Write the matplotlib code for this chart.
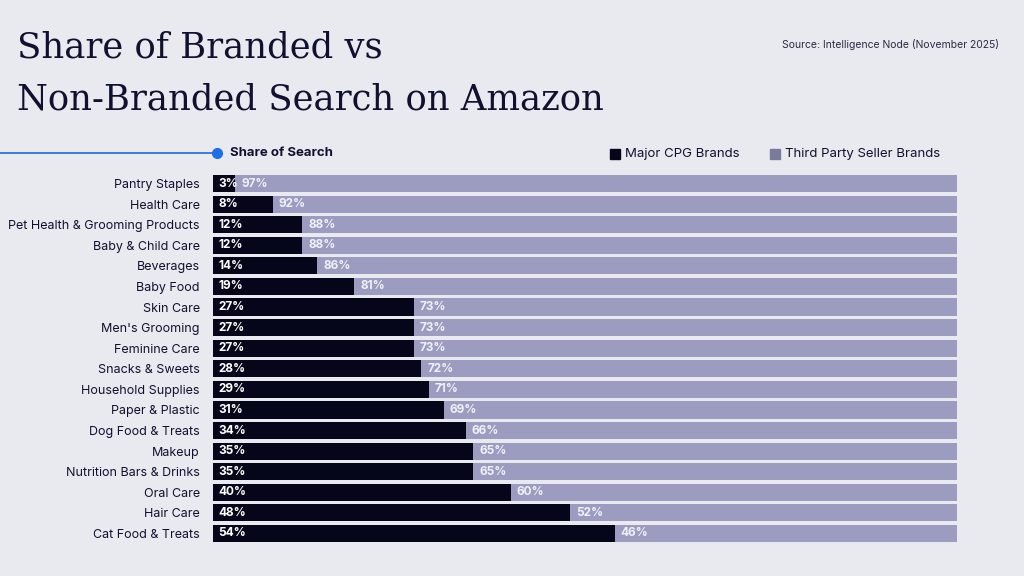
import matplotlib
matplotlib.use("Agg")
import matplotlib.pyplot as plt
from matplotlib.patches import Rectangle

categories = ["Pantry Staples", "Health Care", "Pet Health & Grooming Products",
              "Baby & Child Care", "Beverages", "Baby Food", "Skin Care",
              "Men's Grooming", "Feminine Care", "Snacks & Sweets",
              "Household Supplies", "Paper & Plastic", "Dog Food & Treats",
              "Makeup", "Nutrition Bars & Drinks", "Oral Care", "Hair Care",
              "Cat Food & Treats"]
major_cpg = [3, 8, 12, 12, 14, 19, 27, 27, 27, 28, 29, 31, 34, 35, 35, 40, 48, 54]
third_party = [97, 92, 88, 88, 86, 81, 73, 73, 73, 72, 71, 69, 66, 65, 65, 60, 52, 46]

BG = "#E9EAF0"
DARK = "#06061A"
LIGHT = "#9C9BC0"
NAVY = "#10112E"

fig = plt.figure(figsize=(10.24, 5.76), dpi=100, facecolor=BG)

# Title
fig.text(17/1024, 1-47/576, "Share of Branded vs", family="DejaVu Serif",
         fontsize=25.5, color=NAVY, va="center", ha="left")
fig.text(17/1024, 1-100/576, "Non-Branded Search on Amazon", family="DejaVu Serif",
         fontsize=25.5, color=NAVY, va="center", ha="left")
fig.text(999/1024, 1-45/576, "Source: Intelligence Node (November 2025)",
         family="Inter", fontsize=7.5, color="#2A2B45", ha="right", va="center")

# Blue line with dot
fig.add_artist(plt.Line2D([0, 217/1024], [1-153/576, 1-153/576], color="#2A74E0",
                          lw=1.3, transform=fig.transFigure))
fig.add_artist(plt.Line2D([217/1024], [1-153/576], marker="o", ms=7, color="#1C6FE8",
                          transform=fig.transFigure))
fig.text(230/1024, 1-153/576, "Share of Search", family="Inter", fontsize=9.5,
         fontweight="bold", color=NAVY, va="center", ha="left")

# Legend
for xs, col, lab in [(610, DARK, "Major CPG Brands"), (770, "#7A7A9A", "Third Party Seller Brands")]:
    fig.add_artist(Rectangle((xs/1024, 1-159/576), 10/1024, 10/576, color=col,
                             transform=fig.transFigure))
    fig.text((xs+15)/1024, 1-154/576, lab, family="Inter", fontsize=9.5,
             color=NAVY, va="center", ha="left")

ax = fig.add_axes([213/1024, 1-542/576, (957-213)/1024, (542-175)/576])
ax.set_facecolor(BG)
n = len(categories)
h = 0.83
y = list(range(n))
ax.barh(y, major_cpg, height=h, color=DARK, edgecolor="none")
ax.barh(y, third_party, left=major_cpg, height=h, color=LIGHT, edgecolor="none")
for i in range(n):
    ax.text(0.7, i, f"{major_cpg[i]}%", color="white", fontsize=8.5, fontweight="bold",
            family="Inter", va="center", ha="left")
    ax.text(major_cpg[i] + 0.8, i, f"{third_party[i]}%", color="#F0F0F8", fontsize=8.5,
            fontweight="bold", family="Inter", va="center", ha="left")
ax.set_xlim(0, 100)
ax.set_ylim(n - 1 + h/2, -h/2)
ax.set_yticks(y)
ax.set_yticklabels(categories, family="Inter", fontsize=9, color=NAVY)
ax.tick_params(axis="y", length=0, pad=9.5)
ax.set_xticks([])
for s in ax.spines.values():
    s.set_visible(False)

fig.savefig("out.png", dpi=100, facecolor=BG)
